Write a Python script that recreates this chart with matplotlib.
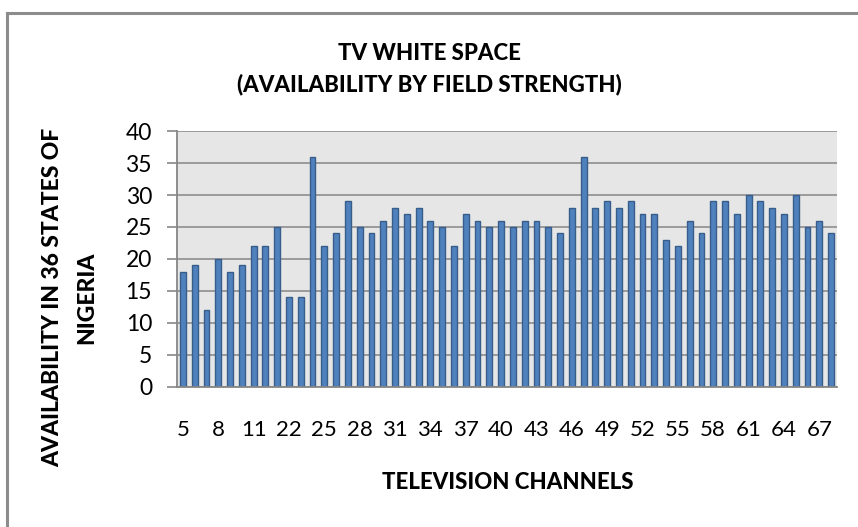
import matplotlib
matplotlib.use("Agg")
import matplotlib.pyplot as plt
from matplotlib.lines import Line2D

# ── Dados ─────────────────────────────────────────────────────────────────────
channels = list(range(5, 13)) + list(range(21, 69))
availability = [
    18, 19, 12, 20, 18, 19, 22, 22,
    25, 14, 14, 36, 22, 24, 29, 25, 24,
    26, 28, 27, 28, 26, 25, 22, 27, 26, 25, 26, 25, 26, 26, 25, 24,
    28, 36, 28, 29, 28,
    29, 27, 27, 23, 22, 26, 24, 29, 29, 27, 30, 29, 28, 27, 30, 25, 26, 24,
]
yticks = [0, 5, 10, 15, 20, 25, 30, 35, 40]

plt.rcParams["font.family"] = ["Lato", "DejaVu Sans"]

# ── Figura ────────────────────────────────────────────────────────────────────
fig = plt.figure(figsize=(8.58, 5.27), dpi=100)
fig.patch.set_facecolor("white")
ax = fig.add_axes([0.2063, 0.2657, 0.7692, 0.4857])
ax.set_facecolor("#e6e6e6")

x = range(len(channels))
ax.bar(x, availability, width=0.5, color="#4f81bd", edgecolor="#385d8a",
       linewidth=1.0, zorder=3)

ax.set_xlim(-0.5, len(channels) - 0.5)
ax.set_ylim(0, 40)
ax.set_yticks(yticks)
ax.set_xticks(list(x)[::3])
ax.set_xticklabels([str(c) for c in channels[::3]])
ax.tick_params(axis="x", length=0, pad=24, labelsize=16)
ax.tick_params(axis="y", length=7, width=1.2, color="#868686", pad=11,
               labelsize=16.5)
ax.grid(axis="y", color="#868686", linewidth=1.1, zorder=1)
for s in ["top", "right"]:
    ax.spines[s].set_visible(False)
for s in ["left", "bottom"]:
    ax.spines[s].set_color("#868686")
    ax.spines[s].set_linewidth(1.3)
    ax.spines[s].set_zorder(4)

# ── Textos ────────────────────────────────────────────────────────────────────
fig.text(0.5, 0.869, "TV WHITE SPACE\n(AVAILABILITY BY FIELD STRENGTH)",
         ha="center", va="center", fontsize=16, fontweight="black",
         linespacing=1.5)
fig.text(0.0816, 0.435, "AVAILABILITY IN 36 STATES OF\nNIGERIA",
         ha="center", va="center", rotation=90, fontsize=16.5,
         fontweight="black", linespacing=1.75, multialignment="center")
fig.text(0.592, 0.085, "TELEVISION CHANNELS", ha="center", va="center",
         fontsize=16, fontweight="black")

# moldura do gráfico (só topo e esquerda aparecem)
fig.add_artist(Line2D([0.0076, 1.0], [0.9753, 0.9753], color="#8c8c8c",
                      linewidth=2.2, transform=fig.transFigure))
fig.add_artist(Line2D([0.0076, 0.0076], [0.0, 0.9753], color="#8c8c8c",
                      linewidth=2.2, transform=fig.transFigure))

fig.savefig("out.png", dpi=100)
